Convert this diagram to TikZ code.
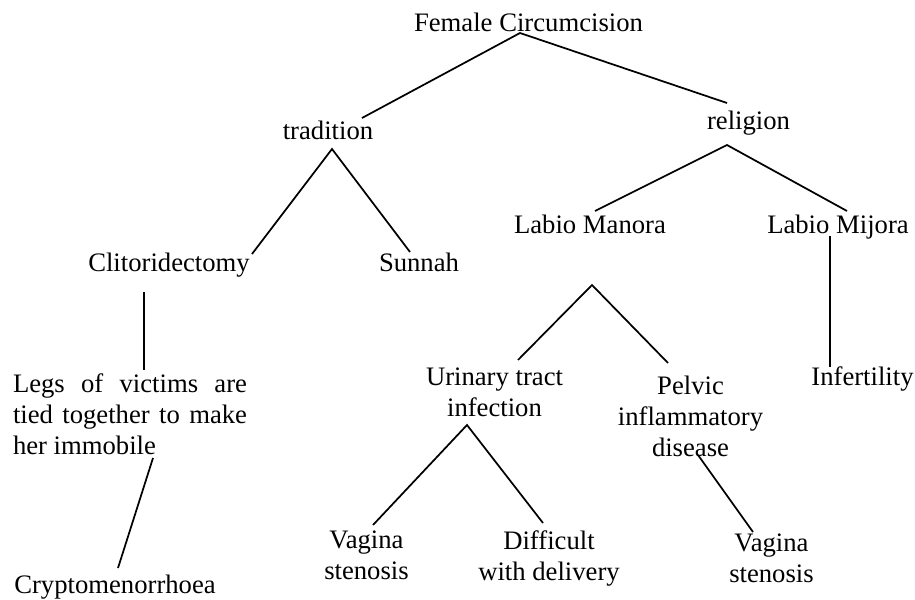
\documentclass[tikz,border=0pt]{standalone}
\usepackage{fontspec}
\setmainfont{Liberation Serif}
\begin{document}
\begin{tikzpicture}[x=0.75pt,y=-0.75pt,
  lbl/.style={inner sep=0pt,anchor=base,font=\fontsize{20pt}{23.25pt}\selectfont},
  mlbl/.style={lbl,align=center},
  link/.style={line width=1.3pt,black}]
\useasboundingbox (0,0) rectangle (915,600);

% labels (x = centre, y = baseline; last line for centred multi-line labels)
\node[lbl] (fc)    at (528.5,31)  {Female Circumcision};
\node[lbl] (trad)  at (328,139)   {tradition};
\node[lbl] (rel)   at (748.5,129) {religion};
\node[lbl] (clit)  at (169,271)   {Clitoridectomy};
\node[lbl] (sun)   at (419,271)   {Sunnah};
\node[lbl] (lman)  at (590,233)   {Labio Manora};
\node[lbl] (lmij)  at (838,233)   {Labio Mijora};
\node[lbl,text width=175.5pt,align=justify] (legs) at (130,392)
  {Legs of victims are tied together to make her immobile};
\node[lbl] (crypt) at (115,593)   {Cryptomenorrhoea};
\node[mlbl] (uti)  at (494.5,416) {Urinary tract\\infection};
\node[mlbl] (pid)  at (690.5,456) {Pelvic\\inflammatory\\disease};
\node[lbl] (inf)   at (862.5,385) {Infertility};
\node[mlbl] (vsa)  at (366.5,579) {Vagina\\stenosis};
\node[mlbl] (diff) at (549,580)   {Difficult\\with delivery};
\node[mlbl] (vsb)  at (771.5,582) {Vagina\\stenosis};

% connector end points
\coordinate (fc-s)    at (520,33);
\coordinate (trad-n)  at (362,118);
\coordinate (rel-n)   at (727,103);
\coordinate (trad-s)  at (332,149);
\coordinate (clit-n)  at (252,254);
\coordinate (sun-n)   at (410,252);
\coordinate (rel-s)   at (727,145);
\coordinate (lman-n)  at (595,211);
\coordinate (lmij-n)  at (847,211);
\coordinate (clit-s)  at (144,292);
\coordinate (legs-n)  at (144,370);
\coordinate (legs-s)  at (153,458);
\coordinate (crypt-n) at (118,568);
\coordinate (lman-s)  at (592,285);
\coordinate (uti-n)   at (518,360);
\coordinate (pid-n)   at (668,363);
\coordinate (lmij-s)  at (830,236);
\coordinate (inf-n)   at (830,367);
\coordinate (uti-s)   at (467,425);
\coordinate (vsa-n)   at (373,525);
\coordinate (diff-n)  at (543,523);
\coordinate (pid-s)   at (698,455);
\coordinate (vsb-n)   at (753,532);

% connectors
\draw[link] (trad-n) -- (fc-s) -- (rel-n);
\draw[link] (clit-n) -- (trad-s) -- (sun-n);
\draw[link] (lman-n) -- (rel-s) -- (lmij-n);
\draw[link] (clit-s) -- (legs-n);
\draw[link] (legs-s) -- (crypt-n);
\draw[link] (uti-n) -- (lman-s) -- (pid-n);
\draw[link] (lmij-s) -- (inf-n);
\draw[link] (vsa-n) -- (uti-s) -- (diff-n);
\draw[link] (pid-s) -- (vsb-n);
\end{tikzpicture}
\end{document}
